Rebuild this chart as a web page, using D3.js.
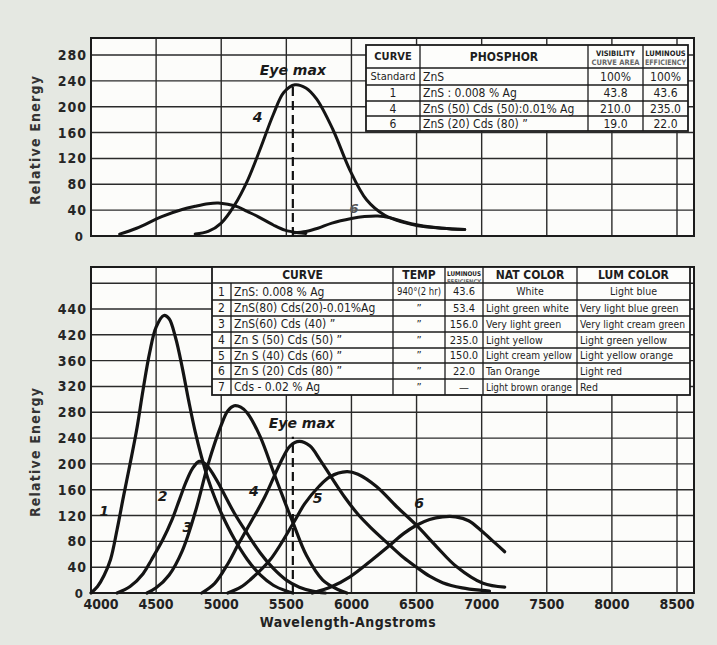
<!DOCTYPE html>
<html><head><meta charset="utf-8">
<script src="https://cdn.jsdelivr.net/npm/d3@7"></script>
<style>body{margin:0;background:#e5e8e2}svg{display:block}</style>
</head><body>
<script>
// ---------- DATA ----------
const xTicks = [4000,4500,5000,5500,6000,6500,7000,7500,8000,8500];
const xTickLabels = ["4000","4500","5000","5500","6000","6500","7000","7500","8000","8500"];
const topYTicks = [0,40,80,120,160,200,240,280];
const topYLabels = ["0","40","80","120","160","200","240","280"];
const botYTicks = [0,40,80,120,160,200,240,280,320,360,400,440];
const botYLabels = ["0","40","80","120","160","200","240","280","320","360","420","440"];
const eyeMax = 5550;

// upper panel (energy x visibility)
const top1 = [[4220,3],[4350,12],[4543,30],[4700,41],[4800,46],[4900,50],[4977,51],[5050,49],[5128,45],[5200,38],[5282,30],[5400,17],[5489,9],[5590,5],[5650,4]];
const top4 = [[4800,3],[4900,7],[5000,20],[5100,47],[5200,85],[5300,135],[5400,188],[5480,222],[5566,234],[5650,229],[5732,212],[5859,164],[5988,102],[6116,56],[6256,32],[6400,21],[6509,16],[6700,12],[6870,10]];
const top6 = [[5560,5],[5650,7],[5742,12],[5850,20],[6000,27],[6100,30],[6203,31],[6300,28],[6400,22],[6509,17],[6700,12],[6870,10]];

// lower panel (relative energy)
const c1 = [[4000,0],[4050,10],[4100,27],[4150,52],[4200,98],[4250,150],[4300,200],[4350,252],[4400,315],[4450,372],[4500,412],[4560,430],[4600,425],[4650,395],[4700,350],[4750,298],[4800,250],[4850,210],[4900,176],[4950,148],[5000,124],[5100,84],[5200,52],[5300,28],[5400,12],[5500,3],[5550,0]];
const c2 = [[4200,0],[4300,10],[4400,30],[4466,52],[4550,82],[4619,112],[4680,145],[4730,172],[4780,193],[4830,204],[4880,200],[4950,180],[5000,162],[5100,124],[5200,92],[5300,62],[5400,38],[5500,20],[5600,9],[5700,3],[5800,0]];
const c3 = [[4430,0],[4500,8],[4600,28],[4700,65],[4800,125],[4900,200],[5000,260],[5050,282],[5100,290],[5150,288],[5200,279],[5300,242],[5400,188],[5500,135],[5553,108],[5655,58],[5780,20],[5900,5],[5965,0]];
const c4 = [[4850,0],[4950,15],[5050,45],[5130,75],[5200,100],[5335,149],[5450,200],[5530,228],[5600,235],[5680,228],[5760,206],[5850,178],[5950,148],[6050,122],[6150,101],[6295,74],[6400,55],[6500,40],[6600,26],[6700,16],[6850,8],[7000,4],[7060,3]];
const c5 = [[5050,0],[5150,9],[5220,20],[5374,51],[5553,108],[5640,138],[5750,165],[5834,180],[5965,188],[6050,184],[6192,165],[6346,134],[6499,105],[6653,72],[6806,41],[7010,15],[7177,9]];
const c6 = [[5700,0],[5850,10],[5988,25],[6150,50],[6295,74],[6400,92],[6499,105],[6600,114],[6700,118],[6800,118],[6900,112],[7000,96],[7100,78],[7177,64]];

// tables
const t1Header = ["CURVE","PHOSPHOR","VISIBILITY|CURVE AREA","LUMINOUS|EFFICIENCY"];
const t1Curve = ["Standard","1","4","6"];
const t1Phosphor = ["ZnS","ZnS : 0.008 % Ag","ZnS (50) Cds (50):0.01% Ag","ZnS (20) Cds (80)     \u201D"];
const t1Vis = ["100%","43.8","210.0","19.0"];
const t1Lum = ["100%","43.6","235.0","22.0"];

const t2Header = ["CURVE","TEMP","LUMINOUS|EFFICIENCY","NAT COLOR","LUM COLOR"];
const t2Num = ["1","2","3","4","5","6","7"];
const t2Curve = ["ZnS: 0.008 % Ag","ZnS(80) Cds(20)-0.01%Ag","ZnS(60) Cds (40)    \u201D","Zn S (50) Cds (50)    \u201D","Zn S (40) Cds (60)    \u201D","Zn S (20) Cds (80)    \u201D","Cds - 0.02 % Ag"];
const t2Temp = ["940\u00B0(2 hr)","\u201D","\u201D","\u201D","\u201D","\u201D","\u201D"];
const t2Lum = ["43.6","53.4","156.0","235.0","150.0","22.0","\u2014"];
const t2Nat = ["White","Light green white","Very light green","Light yellow","Light cream yellow","Tan Orange","Light brown orange"];
const t2LumCol = ["Light blue","Very light blue green","Very light cream green","Light green yellow","Light yellow orange","Light red","Red"];

// ---------- DRAW ----------
const W=717,H=645;
const svg=d3.select("body").append("svg").attr("width",W).attr("height",H);
svg.append("rect").attr("width",W).attr("height",H).attr("fill","#e5e8e2");

const FONT="'DejaVu Sans Condensed','DejaVu Sans',sans-serif";
const INK="#1b1b1b";
const x=d3.scaleLinear().domain([4000,8500]).range([91,677]);
const yT=d3.scaleLinear().domain([0,280]).range([236,55]);
const yB=d3.scaleLinear().domain([0,440]).range([593,309]);

const L=91,R=694;
const topPanel={y0:38,y1:236}, botPanel={y0:267,y1:593};

function panel(p,y,ticks,labels,extra){
  const g=svg.append("g");
  g.append("rect").attr("x",L).attr("y",p.y0).attr("width",R-L).attr("height",p.y1-p.y0).attr("fill","#fcfcfa");
  g.selectAll(".hg").data(ticks.concat(extra)).join("line")
    .attr("x1",L).attr("x2",R).attr("y1",d=>y(d)).attr("y2",d=>y(d))
    .attr("stroke","#2a2a2a").attr("stroke-width",1.4);
  g.selectAll(".vg").data(xTicks.slice(1)).join("line")
    .attr("x1",d=>x(d)).attr("x2",d=>x(d)).attr("y1",p.y0).attr("y2",p.y1)
    .attr("stroke","#2a2a2a").attr("stroke-width",1.4);
  g.append("rect").attr("x",L).attr("y",p.y0).attr("width",R-L).attr("height",p.y1-p.y0)
    .attr("fill","none").attr("stroke",INK).attr("stroke-width",2);
  g.selectAll(".yl").data(ticks).join("text")
    .attr("x",d=>d===0?84:87).attr("y",d=>y(d)+5).attr("text-anchor","end")
    .attr("font-family",FONT).attr("font-weight","bold").attr("font-size",d=>d===0?13:14)
    .attr("letter-spacing",1).attr("fill","#262626")
    .text((d,i)=>labels[i]);
}
panel(topPanel,yT,topYTicks,topYLabels,[]);
panel(botPanel,yB,botYTicks,botYLabels,[480]);

svg.append("g").selectAll("text").data(xTicks).join("text")
  .attr("x",d=>d===4000?x(d)+10:x(d)).attr("y",609).attr("text-anchor","middle")
  .attr("font-family",FONT).attr("font-weight","bold").attr("font-size",14).attr("fill","#222")
  .text((d,i)=>xTickLabels[i]);
svg.append("text").attr("x",348).attr("y",627).attr("text-anchor","middle")
  .attr("font-family",FONT).attr("font-weight","bold").attr("font-size",14).attr("fill","#222")
  .attr("letter-spacing",0.5).text("Wavelength-Angstroms");
[[40,140],[40,452]].forEach(([cx,cy])=>{
  svg.append("text").attr("transform",`translate(${cx},${cy}) rotate(-90)`).attr("text-anchor","middle")
    .attr("font-family",FONT).attr("font-weight","bold").attr("font-size",14).attr("letter-spacing",1.2)
    .attr("fill","#333").text("Relative Energy");
});

function fitText(sel,maxW){
  sel.each(function(){const n=this; const w=n.getComputedTextLength(); if(w>maxW){d3.select(n).attr("textLength",maxW).attr("lengthAdjust","spacingAndGlyphs");}});
}
function table(cols,rows){
  const g=svg.append("g");
  g.append("rect").attr("x",cols[0]).attr("y",rows[0]).attr("width",cols[cols.length-1]-cols[0])
   .attr("height",rows[rows.length-1]-rows[0]).attr("fill","#fdfdfb").attr("stroke",INK).attr("stroke-width",1.8);
  rows.slice(1,-1).forEach(r=>g.append("line").attr("x1",cols[0]).attr("x2",cols[cols.length-1]).attr("y1",r).attr("y2",r).attr("stroke",INK).attr("stroke-width",1.3));
  return g;
}
function cell(g,txt,x0,x1,y0,y1,opt){
  opt=opt||{};
  const fs=opt.fs||12, anchor=opt.anchor||"middle";
  const tx=anchor==="middle"?(x0+x1)/2:x0+3;
  const t=g.append("text").attr("x",tx).attr("y",(y0+y1)/2+fs*0.36).attr("text-anchor",anchor)
    .attr("font-family",FONT).attr("font-size",fs).attr("font-weight",opt.bold?"bold":"normal")
    .attr("fill","#1e1e1e").text(txt);
  fitText(t,x1-x0-8);
}
function header2(g,txt,x0,x1,y0,y1,fs){
  const parts=txt.split("|");
  parts.forEach((p,i)=>{
    const t=g.append("text").attr("x",(x0+x1)/2).attr("y",y0+ (i===0?fs+3:2*fs+5)).attr("text-anchor","middle")
     .attr("font-family",FONT).attr("font-weight","bold").attr("font-size",fs).attr("fill",i===0?"#222":"#666").text(p);
    fitText(t,x1-x0-4);
  });
}

const c1x=[366,420,588,643,688], r1y=[45,68,85,101,116,131];
const g1=table(c1x,r1y);
c1x.slice(1,-1).forEach(cx=>g1.append("line").attr("x1",cx).attr("x2",cx).attr("y1",r1y[0]).attr("y2",r1y[r1y.length-1]).attr("stroke",INK).attr("stroke-width",1.3));
cell(g1,t1Header[0],c1x[0],c1x[1],r1y[0],r1y[1],{bold:true,fs:11});
cell(g1,t1Header[1],c1x[1],c1x[2],r1y[0],r1y[1],{bold:true,fs:12});
header2(g1,t1Header[2],c1x[2],c1x[3],r1y[0],r1y[1],7.5);
header2(g1,t1Header[3],c1x[3],c1x[4],r1y[0],r1y[1],7.5);
t1Curve.forEach((d,i)=>{
  const y0=r1y[i+1],y1=r1y[i+2];
  cell(g1,d,c1x[0],c1x[1],y0,y1,{fs:i===0?11:12});
  cell(g1,t1Phosphor[i],c1x[1],c1x[2],y0,y1,{fs:12,anchor:"start"});
  cell(g1,t1Vis[i],c1x[2],c1x[3],y0,y1,{fs:12});
  cell(g1,t1Lum[i],c1x[3],c1x[4],y0,y1,{fs:12});
});

const c2x=[212,231,393,445,483,577,690], r2y=[267,283,300,316,332,348,363,379,395];
const g2=table(c2x,r2y);
c2x.slice(1,-1).forEach((cx,i)=>g2.append("line").attr("x1",cx).attr("x2",cx).attr("y1",i===0?r2y[1]:r2y[0]).attr("y2",r2y[r2y.length-1]).attr("stroke",INK).attr("stroke-width",1.3));
cell(g2,t2Header[0],c2x[0],c2x[2],r2y[0],r2y[1],{bold:true,fs:12});
cell(g2,t2Header[1],c2x[2],c2x[3],r2y[0],r2y[1],{bold:true,fs:12});
header2(g2,t2Header[2],c2x[3],c2x[4],r2y[0]-1,r2y[1],6.5);
cell(g2,t2Header[3],c2x[4],c2x[5],r2y[0],r2y[1],{bold:true,fs:12});
cell(g2,t2Header[4],c2x[5],c2x[6],r2y[0],r2y[1],{bold:true,fs:12});
t2Num.forEach((d,i)=>{
  const y0=r2y[i+1],y1=r2y[i+2];
  cell(g2,d,c2x[0],c2x[1],y0,y1,{fs:12});
  cell(g2,t2Curve[i],c2x[1],c2x[2],y0,y1,{fs:12,anchor:"start"});
  cell(g2,t2Temp[i],c2x[2],c2x[3],y0,y1,{fs:11});
  cell(g2,t2Lum[i],c2x[3],c2x[4],y0,y1,{fs:11});
  cell(g2,t2Nat[i],c2x[4],c2x[5],y0,y1,{fs:10.5,anchor:i===0?"middle":"start"});
  cell(g2,t2LumCol[i],c2x[5],c2x[6],y0,y1,{fs:10.5,anchor:i===0?"middle":"start"});
});

function curve(data,y,w){
  svg.append("path").datum(data)
    .attr("d",d3.line().x(d=>x(d[0])).y(d=>y(d[1])).curve(d3.curveCatmullRom.alpha(0.5)))
    .attr("fill","none").attr("stroke","#141414").attr("stroke-width",w||3).attr("stroke-linecap","round");
}
[top1,top4,top6].forEach(d=>curve(d,yT,3));
[c1,c2,c3,c4,c5,c6].forEach(d=>curve(d,yB,3.2));

svg.append("line").attr("x1",x(eyeMax)).attr("x2",x(eyeMax)).attr("y1",yT(0)).attr("y2",yT(232))
  .attr("stroke","#111").attr("stroke-width",2.2).attr("stroke-dasharray","9,5");
svg.append("line").attr("x1",x(eyeMax)).attr("x2",x(eyeMax)).attr("y1",yB(0)).attr("y2",yB(242))
  .attr("stroke","#111").attr("stroke-width",2.2).attr("stroke-dasharray","9,5");
function ital(txt,xx,yy,fs,fill){
  svg.append("text").attr("x",xx).attr("y",yy).attr("text-anchor","middle")
   .attr("font-family","'DejaVu Sans',sans-serif").attr("font-style","italic").attr("font-weight","bold")
   .attr("font-size",fs).attr("fill",fill||"#1a1a1a").text(txt);
}
ital("Eye max",x(eyeMax),75,14);
ital("Eye max",x(eyeMax)+9,428,14);
ital("4",x(5280),122,14);
ital("6",x(6020),213,13,"#555");
const botLabels=[["1",4100,120],["2",4550,142],["3",4740,95],["4",5250,150],["5",5740,140],["6",6520,132]];
botLabels.forEach(([t,w,v])=>ital(t,x(w),yB(v),14));
</script>
</body></html>
